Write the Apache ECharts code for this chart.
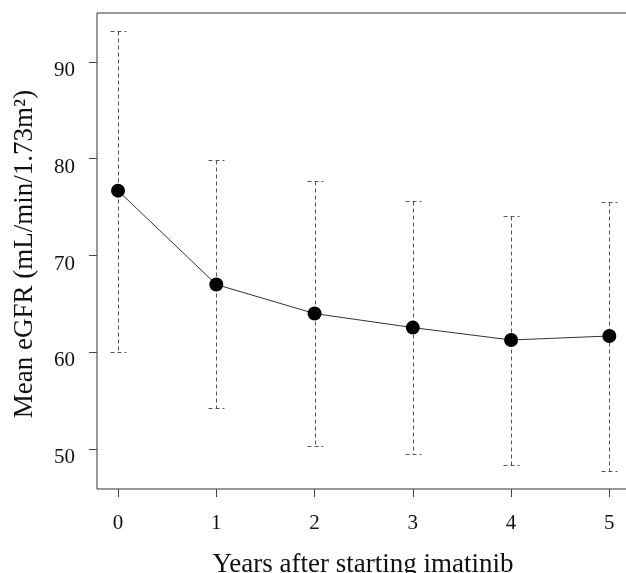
<!DOCTYPE html>
<html>
<head>
<meta charset="utf-8">
<script src="https://cdn.jsdelivr.net/npm/echarts@6/dist/echarts.min.js"></script>
<style>
html,body{margin:0;padding:0;background:#fff;}
#chart{width:626px;height:573px;}
</style>
</head>
<body>
<div id="chart"></div>
<script>
const years = [0, 1, 2, 3, 4, 5];
const meanEGFR = [76.7, 67.0, 64.0, 62.55, 61.27, 61.68];
const upperEGFR = [93.15, 79.9, 77.67, 75.6, 74.08, 75.53];
const lowerEGFR = [60.05, 54.2, 50.34, 49.45, 48.35, 47.7];
const xTicks = [0, 1, 2, 3, 4, 5];
const yTicks = [50, 60, 70, 80, 90];

const FONT = 'Liberation Serif';
const chart = echarts.init(document.getElementById('chart'), null, {renderer: 'canvas'});

const errData = years.map((y, i) => [y, lowerEGFR[i], upperEGFR[i]]);
const lineData = years.map((y, i) => [y, meanEGFR[i]]);

chart.setOption({
  animation: false,
  backgroundColor: '#fff',
  grid: {
    left: 97, top: 13, width: 532, bottom: 84,
    containLabel: false, outerBoundsMode: 'none',
    show: true, borderColor: '#333', borderWidth: 1, backgroundColor: 'transparent'
  },
  xAxis: {
    type: 'value', min: -0.214, max: 5.2,
    splitLine: {show: false},
    axisLine: {show: false, onZero: false},
    axisTick: {show: true, length: 8, lineStyle: {color: '#444'}, customValues: xTicks},
    axisLabel: {customValues: xTicks, margin: 24, fontFamily: FONT, fontSize: 21, color: '#111'},
    name: 'Years after starting imatinib',
    nameLocation: 'middle', nameGap: 62,
    nameTextStyle: {fontFamily: FONT, fontSize: 27, color: '#111'}
  },
  yAxis: {
    type: 'value', min: 45.87, max: 95.06,
    splitLine: {show: false},
    axisLine: {show: false, onZero: false},
    axisTick: {show: true, length: 8, lineStyle: {color: '#444'}, customValues: yTicks},
    axisLabel: {customValues: yTicks, margin: 22, verticalAlign: 'top', lineHeight: 17, fontFamily: FONT, fontSize: 21, color: '#111'},
    name: 'Mean eGFR (mL/min/1.73m²)',
    nameLocation: 'middle', nameGap: 59,
    nameTextStyle: {fontFamily: FONT, fontSize: 27, color: '#111', padding: [0, 6, 0, 0]}
  },
  series: [
    {
      type: 'custom',
      z: 1,
      data: errData,
      renderItem: function (params, api) {
        const x = api.value(0), lo = api.value(1), hi = api.value(2);
        const pt = api.coord([x, hi]);
        const pb = api.coord([x, lo]);
        const cx = Math.round(pt[0]) + 0.5;
        const ty = Math.round(pt[1]) + 0.5;
        const by = Math.round(pb[1]) + 0.5;
        const w = 8;
        const st = {stroke: '#555', lineWidth: 1, lineDash: [4, 3], fill: null};
        return {
          type: 'group',
          children: [
            {type: 'line', shape: {x1: cx, y1: ty, x2: cx, y2: by}, style: st},
            {type: 'line', shape: {x1: cx - w, y1: ty, x2: cx + w, y2: ty}, style: st},
            {type: 'line', shape: {x1: cx - w, y1: by, x2: cx + w, y2: by}, style: st}
          ]
        };
      }
    },
    {
      type: 'line',
      z: 3,
      data: lineData,
      symbol: 'circle',
      symbolSize: 14,
      itemStyle: {color: '#000'},
      lineStyle: {color: '#333', width: 1}
    }
  ]
});
</script>
</body>
</html>
